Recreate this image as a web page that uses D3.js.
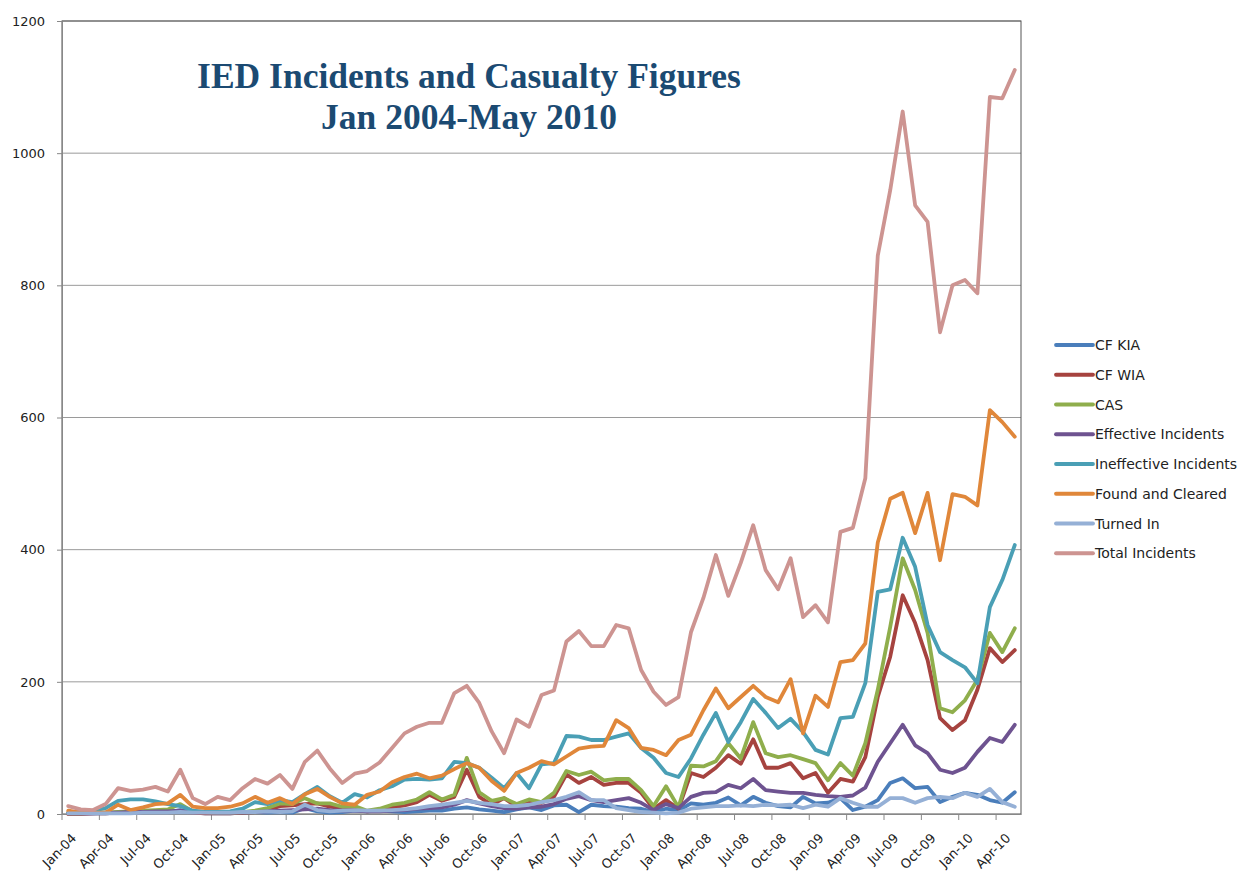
<!DOCTYPE html>
<html>
<head>
<meta charset="utf-8">
<script src="https://cdn.jsdelivr.net/npm/d3@7"></script>
<style>
  body { margin: 0; background: #fff; }
  svg { display: block; }
</style>
</head>
<body>
<svg id="chart" width="1240" height="872"></svg>
<script>
// months Jan-04 .. May-10 (77 categories)
const months = d3.timeMonth.range(new Date(2004, 0, 1), new Date(2010, 5, 1))

const tickLabels = ['Jan-04', 'Apr-04', 'Jul-04', 'Oct-04', 'Jan-05', 'Apr-05', 'Jul-05', 'Oct-05',
  'Jan-06', 'Apr-06', 'Jul-06', 'Oct-06', 'Jan-07', 'Apr-07', 'Jul-07', 'Oct-07',
  'Jan-08', 'Apr-08', 'Jul-08', 'Oct-08', 'Jan-09', 'Apr-09', 'Jul-09', 'Oct-09',
  'Jan-10', 'Apr-10']

const yTicks = [0, 200, 400, 600, 800, 1000, 1200]

const cfKIA = [1, 1, 1, 1, 2, 2, 3, 3, 3, 6, 2, 1, 1, 1, 2, 3, 2, 3, 2, 9,
  4, 2, 3, 5, 4, 5, 4, 3, 4, 5, 5, 8, 10, 7, 5, 3, 7, 10, 6, 13,
  14, 3, 14, 12, 11, 9, 8, 3, 8, 5, 16, 14, 17, 25, 13, 26, 17, 12, 10, 26,
  16, 17, 24, 6, 11, 21, 47, 54, 39, 41, 18, 26, 32, 29, 21, 17, 33]

const cfWIA = [0, 0, 1, 1, 2, 2, 3, 3, 3, 4, 2, 1, 1, 1, 2, 3, 6, 12, 13, 15,
  16, 11, 9, 8, 4, 6, 10, 13, 18, 29, 20, 26, 67, 26, 14, 24, 11, 17, 17, 26,
  60, 47, 56, 44, 47, 47, 32, 8, 21, 8, 62, 56, 70, 89, 76, 113, 70, 70, 77, 54,
  62, 32, 53, 49, 86, 177, 238, 331, 289, 233, 145, 127, 142, 188, 251, 230, 248]

const cas = [1, 1, 2, 2, 3, 4, 5, 6, 7, 15, 4, 3, 2, 2, 3, 5, 9, 16, 15, 24,
  16, 16, 11, 12, 5, 8, 14, 17, 22, 33, 22, 29, 85, 33, 20, 24, 15, 22, 18, 32,
  65, 59, 64, 51, 53, 53, 36, 12, 42, 10, 73, 72, 80, 107, 84, 139, 92, 86, 89, 83,
  77, 51, 77, 58, 107, 188, 283, 387, 339, 274, 160, 154, 172, 203, 274, 245, 281]

const effective = [1, 1, 1, 2, 2, 3, 3, 4, 4, 5, 4, 3, 2, 2, 3, 3, 4, 5, 6, 7,
  8, 6, 5, 5, 4, 4, 5, 6, 8, 9, 10, 14, 21, 16, 12, 9, 8, 10, 11, 15,
  23, 27, 21, 18, 21, 24, 17, 6, 15, 9, 26, 32, 33, 44, 39, 53, 36, 34, 32, 32,
  29, 27, 26, 28, 40, 79, 107, 135, 104, 92, 67, 62, 70, 94, 115, 109, 135]

const ineffective = [2, 3, 5, 9, 20, 22, 22, 19, 15, 12, 5, 3, 3, 4, 8, 18, 15, 21, 18, 30,
  41, 27, 17, 30, 25, 36, 42, 52, 53, 52, 54, 79, 77, 70, 55, 39, 62, 39, 75, 77,
  118, 117, 112, 112, 117, 122, 100, 85, 62, 56, 84, 120, 153, 109, 139, 174, 153, 130, 144, 124,
  97, 90, 145, 147, 198, 336, 340, 418, 374, 286, 245, 233, 222, 198, 313, 354, 407]

const foundCleared = [5, 2, 2, 2, 14, 6, 10, 15, 16, 29, 11, 9, 9, 11, 16, 26, 17, 24, 15, 30,
  38, 26, 16, 14, 29, 34, 48, 56, 61, 54, 58, 68, 77, 70, 50, 35, 62, 70, 80, 75,
  87, 99, 102, 103, 142, 130, 100, 97, 89, 112, 120, 157, 190, 160, 177, 194, 177, 169, 204, 122,
  179, 162, 230, 233, 258, 411, 477, 486, 425, 486, 384, 484, 480, 467, 611, 593, 571]

const turnedIn = [1, 1, 1, 1, 1, 1, 2, 2, 2, 3, 2, 2, 2, 2, 3, 3, 4, 3, 4, 14,
  6, 4, 5, 6, 5, 5, 6, 7, 9, 12, 14, 17, 20, 17, 15, 12, 12, 14, 18, 21,
  26, 33, 21, 21, 9, 6, 3, 2, 1, 2, 8, 10, 12, 12, 13, 12, 14, 13, 14, 9,
  14, 11, 24, 17, 11, 11, 24, 24, 17, 24, 26, 24, 32, 26, 38, 18, 11]

const totalIncidents = [12, 7, 6, 15, 39, 35, 37, 41, 34, 67, 24, 15, 26, 21, 39, 53, 46, 59, 38, 79,
  96, 69, 47, 61, 65, 78, 100, 122, 132, 138, 138, 183, 194, 168, 125, 92, 143, 132, 180, 187,
  261, 277, 254, 254, 286, 281, 218, 185, 165, 177, 275, 327, 392, 330, 380, 437, 369, 340, 387, 298,
  316, 290, 427, 433, 508, 845, 944, 1063, 921, 896, 729, 800, 808, 788, 1085, 1083, 1126]

const seriesNames = ['CF KIA', 'CF WIA', 'CAS', 'Effective Incidents', 'Ineffective Incidents',
  'Found and Cleared', 'Turned In', 'Total Incidents']
const seriesColors = ['#4A7EBB', '#A6433F', '#8FAE4C', '#6E5390', '#4A9FB5', '#E0873A', '#95B0D6', '#CD9491']

const series = [cfKIA, cfWIA, cas, effective, ineffective, foundCleared, turnedIn, totalIncidents]
  .map((values, k) => ({ name: seriesNames[k], color: seriesColors[k], values }))

const plot = { left: 62, right: 1021, top: 21, bottom: 814 }
const font = '"DejaVu Sans", Verdana, sans-serif'

const svg = d3.select('#chart')

const x = d3.scaleBand()
  .domain(months.map((d, i) => i))
  .range([plot.left, plot.right])
  .paddingInner(0)
  .paddingOuter(0)

const y = d3.scaleLinear().domain([0, 1200]).range([plot.bottom, plot.top])

// gridlines
svg.append('g')
  .selectAll('line')
  .data(yTicks.slice(1))
  .join('line')
  .attr('x1', plot.left)
  .attr('x2', plot.right)
  .attr('y1', (d) => y(d))
  .attr('y2', (d) => y(d))
  .attr('stroke', '#9a9a9a')
  .attr('stroke-width', 1)

// plot area border
svg.append('rect')
  .attr('x', plot.left)
  .attr('y', plot.top)
  .attr('width', plot.right - plot.left)
  .attr('height', plot.bottom - plot.top)
  .attr('fill', 'none')
  .attr('stroke', '#555')
  .attr('stroke-width', 1)

// y axis
const yAxis = svg.append('g')
  .attr('transform', `translate(${plot.left},0)`)
  .call(d3.axisLeft(y).tickValues(yTicks).tickFormat(d3.format('d')).tickSize(5).tickPadding(12))
yAxis.select('.domain').attr('stroke', '#888')
yAxis.selectAll('.tick line').attr('stroke', '#888')
yAxis.selectAll('text')
  .attr('font-family', font)
  .attr('font-size', 13)
  .attr('fill', '#222')

// x axis: labels at category centre, ticks at category boundaries
const labelIdx = months.map((d, i) => i).filter((i) => i % 3 === 0)
const xAxis = svg.append('g')
  .attr('transform', `translate(0,${plot.bottom})`)
  .call(d3.axisBottom(x).tickValues(labelIdx).tickSize(0).tickPadding(0)
    .tickFormat((i) => tickLabels[labelIdx.indexOf(i)]))
xAxis.select('.domain').attr('stroke', '#888')
xAxis.selectAll('text')
  .attr('font-family', font)
  .attr('font-size', 13)
  .attr('fill', '#222')
  .attr('text-anchor', 'end')
  .attr('dy', null)
  .attr('y', 0)
  .attr('transform', 'translate(9,25) rotate(-45)')

svg.append('g')
  .selectAll('line')
  .data(labelIdx)
  .join('line')
  .attr('x1', (i) => x(i))
  .attr('x2', (i) => x(i))
  .attr('y1', plot.bottom)
  .attr('y2', plot.bottom + 6)
  .attr('stroke', '#888')

// lines
const line = d3.line()
  .x((d, i) => x(i) + x.bandwidth() / 2)
  .y((d) => y(d))

svg.append('g')
  .selectAll('path')
  .data(series)
  .join('path')
  .attr('fill', 'none')
  .attr('stroke', (d) => d.color)
  .attr('stroke-width', 3.8)
  .attr('stroke-linejoin', 'round')
  .attr('stroke-linecap', 'round')
  .attr('d', (d) => line(d.values))

// title
const title = svg.append('text')
  .attr('text-anchor', 'middle')
  .attr('font-family', '"Liberation Serif", "Times New Roman", serif')
  .attr('font-weight', 'bold')
  .attr('font-size', 35.5)
  .attr('fill', '#1B4A72')
title.append('tspan').attr('x', 469).attr('y', 88).text('IED Incidents and Casualty Figures')
title.append('tspan').attr('x', 469).attr('y', 129).text('Jan 2004-May 2010')

// legend
const legend = svg.append('g')
  .attr('transform', 'translate(1055,345)')
const item = legend.selectAll('g')
  .data(series)
  .join('g')
  .attr('transform', (d, k) => `translate(0,${k * 29.75})`)
item.append('line')
  .attr('x1', 1)
  .attr('x2', 38)
  .attr('stroke', (d) => d.color)
  .attr('stroke-width', 3.8)
  .attr('stroke-linecap', 'round')
item.append('text')
  .attr('x', 40)
  .attr('dy', '0.36em')
  .attr('font-family', font)
  .attr('font-size', 14)
  .attr('fill', '#222')
  .text((d) => d.name)
</script>
</body>
</html>
